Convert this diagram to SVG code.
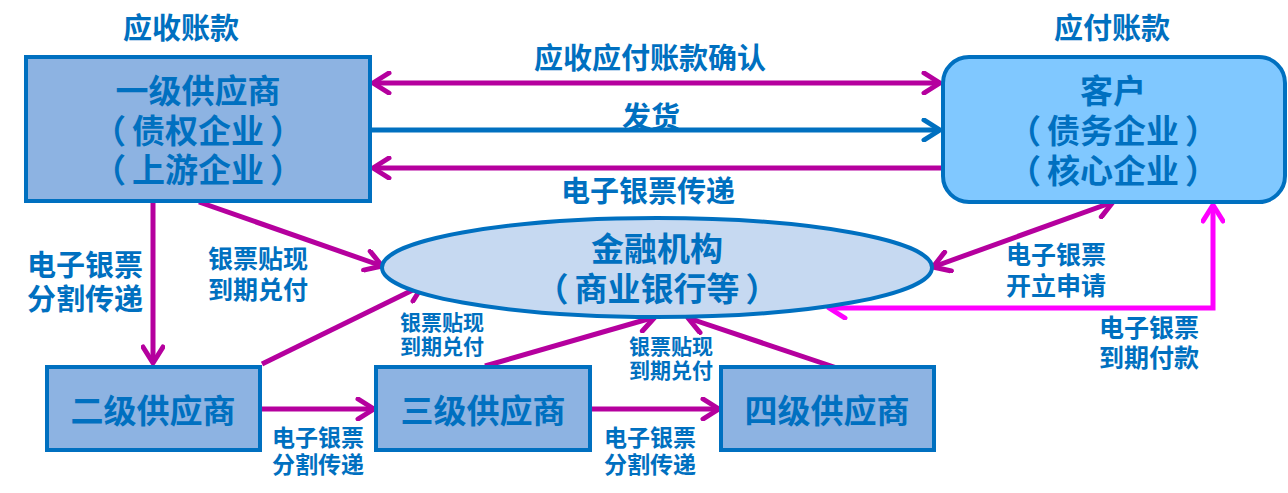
<svg xmlns="http://www.w3.org/2000/svg" width="1288" height="493" viewBox="0 0 1288 493">
<style>
text{font-family:"Noto Sans CJK SC","Noto Sans",sans-serif;font-weight:bold;fill:#0070C0;text-anchor:middle;dominant-baseline:central}
.box{fill:#8DB3E2;stroke:#0070C0;stroke-width:4}
.cust{fill:#80C8FF;stroke:#0070C0;stroke-width:4}
.ell{fill:#C6D9F1;stroke:#0070C0;stroke-width:4}
.big{font-size:33px}
.lbl{font-size:29px}
.mid{font-size:25px}
.sm{font-size:21px}
.sm2{font-size:23px}
.m{stroke:#B5009E;stroke-width:5;fill:none}
.b{stroke:#0070C0;stroke-width:5;fill:none}
.p{stroke:#FF00FF;stroke-width:5;fill:none}
</style>
<defs>
<marker id="am" markerUnits="userSpaceOnUse" markerWidth="24" markerHeight="24" viewBox="0 0 24 24" refX="20" refY="12" orient="auto-start-reverse"><path d="M4,2 L20,12 L4,22" fill="none" stroke="#B5009E" stroke-width="5" stroke-linecap="round" stroke-linejoin="round"/></marker>
<marker id="ab" markerUnits="userSpaceOnUse" markerWidth="24" markerHeight="24" viewBox="0 0 24 24" refX="20" refY="12" orient="auto-start-reverse"><path d="M4,2 L20,12 L4,22" fill="none" stroke="#0070C0" stroke-width="5" stroke-linecap="round" stroke-linejoin="round"/></marker>
<marker id="ap" markerUnits="userSpaceOnUse" markerWidth="24" markerHeight="24" viewBox="0 0 24 24" refX="20" refY="12" orient="auto-start-reverse"><path d="M4,2 L20,12 L4,22" fill="none" stroke="#FF00FF" stroke-width="5" stroke-linecap="round" stroke-linejoin="round"/></marker>
</defs>

<text class="lbl" x="181" y="26">应收账款</text>
<text class="lbl" x="1112" y="26">应付账款</text>

<g id="connectors">
<line class="m" x1="373" y1="83" x2="940" y2="83" marker-start="url(#am)" marker-end="url(#am)"/>
<line class="b" x1="370" y1="130" x2="940" y2="130" marker-end="url(#ab)"/>
<line class="m" x1="943" y1="168" x2="373" y2="168" marker-end="url(#am)"/>
<line class="m" x1="153" y1="202" x2="153" y2="363" marker-end="url(#am)"/>
<line class="m" x1="199" y1="202" x2="382" y2="266" marker-end="url(#am)"/>
<line class="m" x1="262" y1="364" x2="423" y2="285" marker-end="url(#am)"/>
<line class="m" x1="485" y1="366" x2="655" y2="317" marker-end="url(#am)"/>
<line class="m" x1="837" y1="368" x2="688" y2="318" marker-end="url(#am)"/>
<line class="m" x1="262" y1="409" x2="374" y2="409" marker-end="url(#am)"/>
<line class="m" x1="592" y1="409" x2="719" y2="409" marker-end="url(#am)"/>
<line class="m" x1="933" y1="267" x2="1113" y2="202" marker-start="url(#am)" marker-end="url(#am)"/>
<path class="p" d="M829,308 L1213,308 L1213,205" marker-start="url(#ap)" marker-end="url(#ap)"/>
<text class="lbl" x="650" y="56">应收应付账款确认</text>
<text class="lbl" x="651" y="115">发货</text>
<text class="lbl" x="648" y="189">电子银票传递</text>
<text class="lbl" x="85" y="263">电子银票</text>
<text class="lbl" x="85" y="297">分割传递</text>
<text class="mid" x="258" y="257">银票贴现</text>
<text class="mid" x="258" y="288">到期兑付</text>
<text class="sm" x="442" y="321">银票贴现</text>
<text class="sm" x="442" y="345">到期兑付</text>
<text class="sm" x="671" y="345">银票贴现</text>
<text class="sm" x="671" y="369">到期兑付</text>
<text class="sm2" x="318" y="436">电子银票</text>
<text class="sm2" x="318" y="463">分割传递</text>
<text class="sm2" x="650" y="436">电子银票</text>
<text class="sm2" x="650" y="463">分割传递</text>
<text class="mid" x="1056" y="253">电子银票</text>
<text class="mid" x="1056" y="284">开立申请</text>
<text class="mid" x="1149" y="326">电子银票</text>
<text class="mid" x="1149" y="356">到期付款</text>
</g>

<g id="supplier1">
<rect class="box" x="26" y="57" width="344" height="144"/>
<text class="big" x="198" y="89">一级供应商</text>
<text class="big" x="198" y="129">（<tspan dx="6">债权企业</tspan><tspan dx="6">）</tspan></text>
<text class="big" x="198" y="168">（<tspan dx="6">上游企业</tspan><tspan dx="6">）</tspan></text>
</g>

<g id="customer">
<rect class="cust" x="943" y="57" width="342" height="145" rx="26"/>
<text class="big" x="1113" y="89">客户</text>
<text class="big" x="1113" y="129">（<tspan dx="6">债务企业</tspan><tspan dx="6">）</tspan></text>
<text class="big" x="1113" y="169">（<tspan dx="6">核心企业</tspan><tspan dx="6">）</tspan></text>
</g>

<g id="bank">
<ellipse class="ell" cx="657" cy="267.5" rx="275" ry="49.5"/>
<text class="big" x="657" y="247">金融机构</text>
<text class="big" x="657" y="287">（<tspan dx="6">商业银行等</tspan><tspan dx="6">）</tspan></text>
</g>

<g id="supplier2">
<rect class="box" x="47" y="367" width="213" height="83"/>
<text class="big" x="153" y="409">二级供应商</text>
</g>

<g id="supplier3">
<rect class="box" x="376" y="367" width="214" height="83"/>
<text class="big" x="483" y="409">三级供应商</text>
</g>

<g id="supplier4">
<rect class="box" x="721" y="367" width="213" height="83"/>
<text class="big" x="827" y="409">四级供应商</text>
</g>
</svg>
